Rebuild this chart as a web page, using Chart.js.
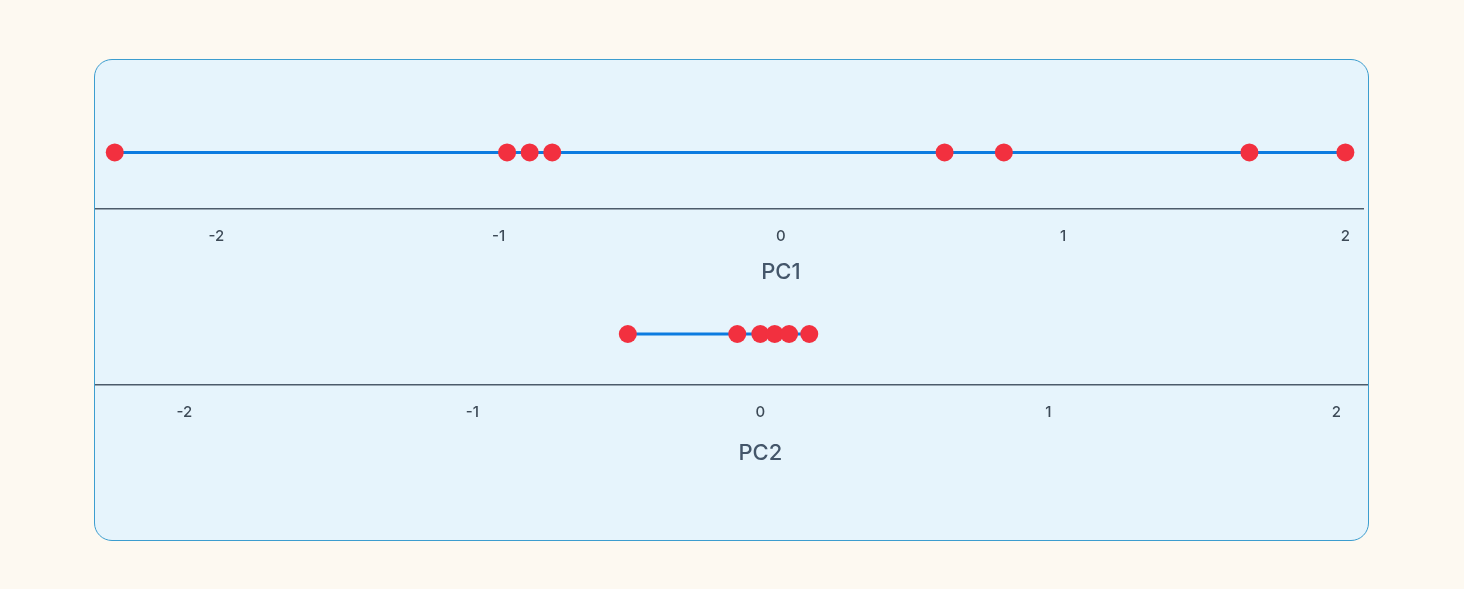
<!DOCTYPE html>
<html>
<head>
<meta charset="utf-8">
<script src="https://cdn.jsdelivr.net/npm/chart.js@4/dist/chart.umd.min.js"></script>
<style>
  body { margin: 0; background: #fdf9f1; font-family: Inter, sans-serif; }
  #panel { position: absolute; left: 94px; top: 59px; width: 1273px; height: 480px;
    background: #e6f4fc; border: 1.5px solid #3c9dcf; border-radius: 18px; overflow: hidden; }
  .wrap { position: absolute; left: 0; width: 1273px; }
</style>
</head>
<body>
<div id="panel">
  <div class="wrap" style="top:0;height:250px"><canvas id="pc1"></canvas></div>
  <div class="wrap" style="top:250px;height:200px"><canvas id="pc2"></canvas></div>
</div>
<script>
const pc1Values = [-2.36, -0.97, -0.89, -0.81, 0.58, 0.79, 1.66, 2.0];
const pc2Values = [-0.46, -0.08, 0.0, 0.05, 0.1, 0.17];
const tickValues = [-2, -1, 0, 1, 2];

// axis title centred on the zero tick, as in the original
const zeroTitle = {
  id: "zeroTitle",
  afterDraw(chart, args, opts) {
    const ctx = chart.ctx;
    const x = chart.scales.x.getPixelForValue(0);
    ctx.save();
    ctx.font = "500 22px Inter";
    ctx.fillStyle = "#44566a";
    ctx.textAlign = "center";
    ctx.textBaseline = "middle";
    ctx.fillText(opts.text, x, chart.chartArea.bottom + opts.offset);
    ctx.restore();
  }
};

function strip(id, values, min, max, level, title, padBottom, offset) {
  new Chart(document.getElementById(id), {
    type: "scatter",
    data: {
      datasets: [{
        data: values.map(v => ({ x: v, y: level })),
        showLine: true,
        borderColor: "#0b7be0",
        borderWidth: 3,
        pointBackgroundColor: "#f2303f",
        pointBorderWidth: 0,
        pointRadius: 9,
        clip: false
      }]
    },
    plugins: [zeroTitle],
    options: {
      responsive: true,
      maintainAspectRatio: false,
      animation: false,
      layout: { autoPadding: false, padding: { left: 0, right: 0, top: 0, bottom: padBottom } },
      plugins: { legend: { display: false }, tooltip: { enabled: false },
                 zeroTitle: { text: title, offset } },
      scales: {
        y: { display: false, min: 0, max: 1 },
        x: {
          type: "linear", min, max,
          afterBuildTicks: s => { s.ticks = tickValues.map(v => ({ value: v })); },
          grid: { display: false, drawTicks: false },
          border: { color: "#4c5b6a", width: 1.5 },
          ticks: { color: "#3d4a57", font: { family: "Inter", size: 15, weight: "500" }, padding: 18,
                   callback: v => String(v) }
        }
      }
    }
  });
}

strip("pc1", pc1Values, -2.43, 2.063, 0.38, "PC1", 47, 63);
strip("pc2", pc2Values, -2.31, 2.11, 0.68, "PC2", 71, 68);
</script>
</body>
</html>
